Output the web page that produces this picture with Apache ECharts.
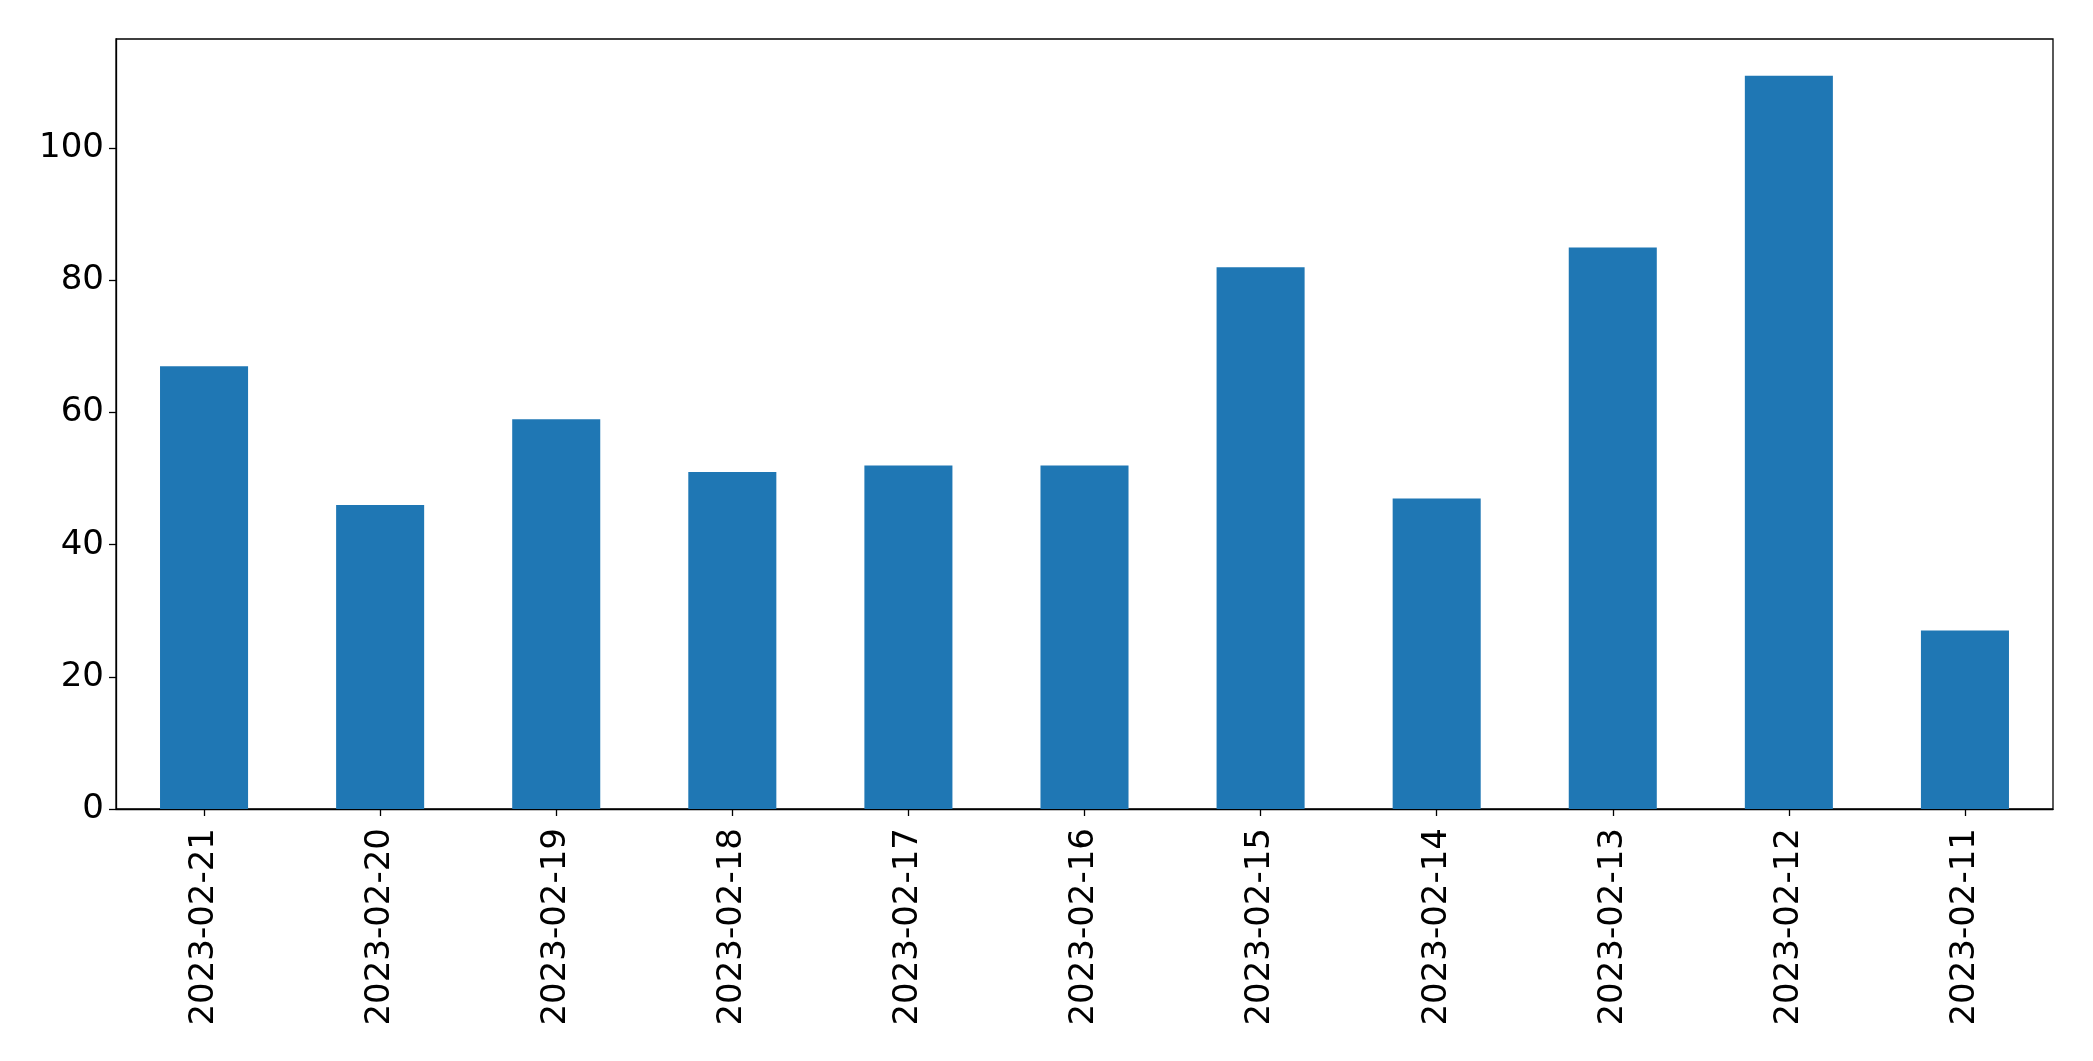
<!DOCTYPE html>
<html>
<head>
<meta charset="utf-8">
<script src="https://cdn.jsdelivr.net/npm/echarts@6/dist/echarts.min.js"></script>
<style>
html,body{margin:0;padding:0;background:#fff;}
#c{width:2093px;height:1061px;}
</style>
</head>
<body>
<div id="c"></div>
<script>
const categories = ['2023-02-21','2023-02-20','2023-02-19','2023-02-18','2023-02-17','2023-02-16','2023-02-15','2023-02-14','2023-02-13','2023-02-12','2023-02-11'];
const values = [67, 46, 59, 51, 52, 52, 82, 47, 85, 111, 27];
const yTicks = [0, 20, 40, 60, 80, 100];

const chart = echarts.init(document.getElementById('c'), null, {renderer: 'canvas'});
const font = 'DejaVu Sans';
chart.setOption({
  animation: false,
  backgroundColor: '#fff',
  grid: {left: 116, right: 40, top: 39, bottom: 252, show: true, borderColor: '#000', borderWidth: 1.3, backgroundColor: 'transparent'},
  xAxis: {
    type: 'category',
    data: categories,
    boundaryGap: true,
    axisLine: {show: true, lineStyle: {color: '#000', width: 1.3}},
    axisTick: {show: true, alignWithLabel: true, length: 7, lineStyle: {color: '#000', width: 1.3}},
    axisLabel: {rotate: 90, color: '#000', fontFamily: font, fontSize: 34, margin: 19, interval: 0},
    splitLine: {show: false}
  },
  yAxis: {
    type: 'value',
    min: 0,
    max: 116.55,
    axisLine: {show: true, lineStyle: {color: '#000', width: 1.3}},
    axisTick: {show: true, length: 7, customValues: yTicks, lineStyle: {color: '#000', width: 1.3}},
    axisLabel: {color: '#000', fontFamily: font, fontSize: 34, margin: 12, customValues: yTicks},
    splitLine: {show: false}
  },
  series: [{
    type: 'bar',
    data: values,
    barWidth: '50%',
    itemStyle: {color: '#1f77b4'}
  }]
});
</script>
</body>
</html>
